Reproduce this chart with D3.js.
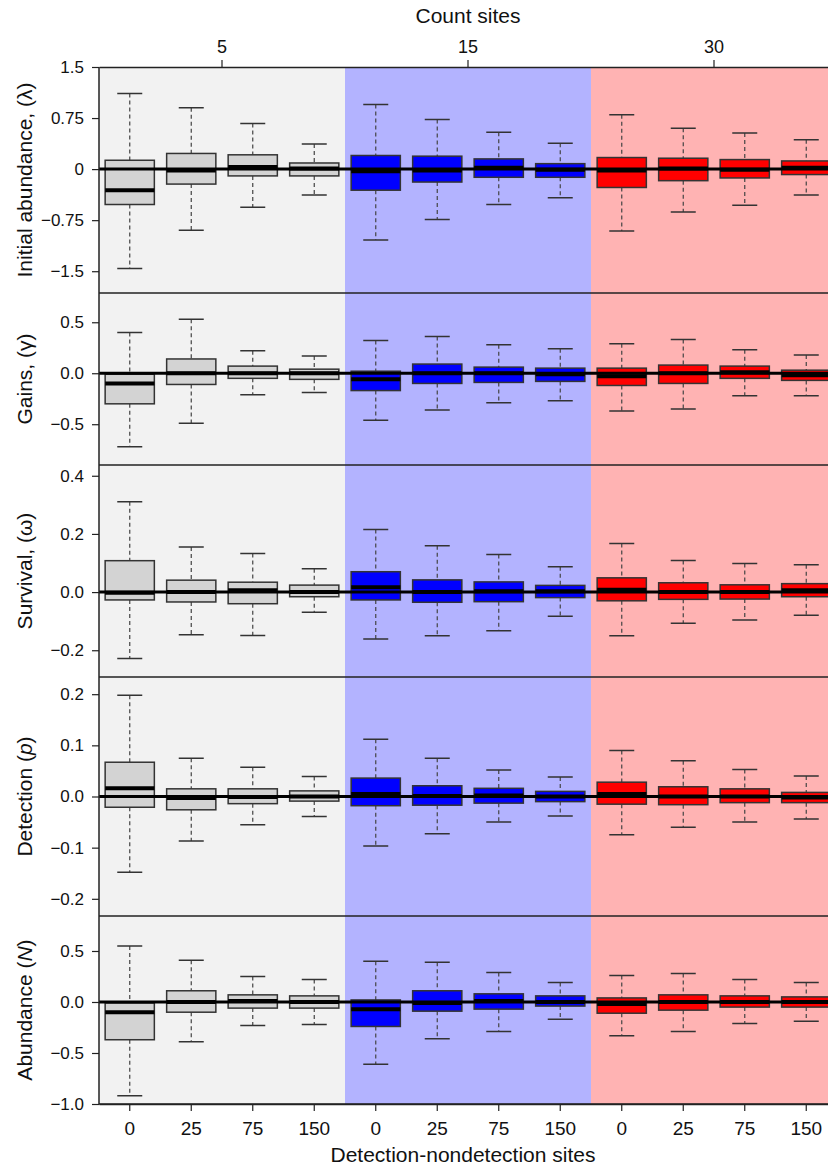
<!DOCTYPE html>
<html>
<head>
<meta charset="utf-8">
<script src="https://cdn.jsdelivr.net/npm/d3@7"></script>
<style>
  body { margin: 0; background: #fff; }
  svg text { font-family: "Liberation Sans", Arial, Helvetica, sans-serif; }
</style>
</head>
<body>
<div id="wrapper"></div>
<script>
// count-site groups (top axis) and detection-nondetection sites (bottom axis)
const countSites = ["5", "15", "30"]
const dnSites = ["0", "25", "75", "150"]
const groupFill = ["#f2f2f2", "#b3b3ff", "#ffb3b3"]
const boxFill = ["#d3d3d3", "#0000ff", "#ff0000"]

// each row: [lower whisker, q1, median, q3, upper whisker], 12 boxes per panel
const lambdaStats = [
    [-1.46, -0.52, -0.31, 0.13, 1.11], [-0.90, -0.22, -0.02, 0.23, 0.90], [-0.56, -0.10, 0.03, 0.21, 0.67], [-0.38, -0.10, 0.01, 0.09, 0.37],
    [-1.04, -0.31, -0.03, 0.20, 0.95], [-0.74, -0.19, -0.02, 0.19, 0.73], [-0.52, -0.12, 0.02, 0.15, 0.54], [-0.42, -0.12, -0.01, 0.08, 0.38],
    [-0.91, -0.27, -0.02, 0.17, 0.80], [-0.63, -0.17, 0.01, 0.16, 0.60], [-0.53, -0.13, -0.01, 0.14, 0.53], [-0.38, -0.08, 0.02, 0.12, 0.43]
]
const gammaStats = [
    [-0.72, -0.30, -0.10, -0.01, 0.40], [-0.49, -0.11, 0.00, 0.14, 0.53], [-0.21, -0.05, 0.00, 0.07, 0.22], [-0.19, -0.06, 0.00, 0.04, 0.17],
    [-0.46, -0.17, -0.06, 0.02, 0.32], [-0.36, -0.10, 0.00, 0.09, 0.36], [-0.29, -0.09, 0.00, 0.06, 0.28], [-0.27, -0.08, -0.01, 0.05, 0.24],
    [-0.37, -0.12, -0.03, 0.05, 0.29], [-0.35, -0.10, 0.00, 0.08, 0.33], [-0.22, -0.05, 0.01, 0.07, 0.23], [-0.22, -0.07, -0.02, 0.03, 0.18]
]
const omegaStats = [
    [-0.228, -0.027, -0.002, 0.108, 0.311], [-0.147, -0.034, 0.000, 0.041, 0.155], [-0.149, -0.040, 0.006, 0.034, 0.133], [-0.069, -0.016, 0.000, 0.024, 0.080],
    [-0.161, -0.027, 0.017, 0.070, 0.215], [-0.150, -0.035, 0.000, 0.042, 0.159], [-0.133, -0.033, 0.003, 0.035, 0.129], [-0.083, -0.019, 0.003, 0.023, 0.087],
    [-0.150, -0.030, 0.008, 0.049, 0.167], [-0.107, -0.025, 0.000, 0.032, 0.109], [-0.096, -0.024, 0.000, 0.025, 0.098], [-0.080, -0.016, 0.006, 0.029, 0.094]
]
const pStats = [
    [-0.148, -0.021, 0.016, 0.067, 0.198], [-0.087, -0.026, -0.003, 0.015, 0.075], [-0.055, -0.014, -0.001, 0.015, 0.057], [-0.039, -0.009, 0.000, 0.011, 0.039],
    [-0.097, -0.018, 0.005, 0.036, 0.112], [-0.073, -0.017, 0.001, 0.021, 0.075], [-0.050, -0.013, 0.002, 0.016, 0.052], [-0.038, -0.010, 0.000, 0.010, 0.038],
    [-0.075, -0.015, 0.005, 0.028, 0.090], [-0.060, -0.016, 0.000, 0.019, 0.070], [-0.050, -0.012, 0.000, 0.015, 0.053], [-0.044, -0.012, -0.002, 0.008, 0.040]
]
const nStats = [
    [-0.92, -0.37, -0.10, -0.01, 0.55], [-0.39, -0.10, 0.00, 0.11, 0.41], [-0.23, -0.06, 0.01, 0.07, 0.25], [-0.22, -0.06, 0.00, 0.06, 0.22],
    [-0.61, -0.24, -0.07, 0.02, 0.40], [-0.36, -0.09, -0.01, 0.11, 0.39], [-0.29, -0.07, 0.01, 0.08, 0.29], [-0.17, -0.04, 0.00, 0.06, 0.19],
    [-0.33, -0.11, -0.02, 0.04, 0.26], [-0.29, -0.08, 0.00, 0.07, 0.28], [-0.21, -0.05, 0.00, 0.06, 0.22], [-0.19, -0.05, 0.00, 0.05, 0.19]
]

// y-axis domains and tick values per panel
const lambdaDomain = [-1.82, 1.5], lambdaTicks = [-1.5, -0.75, 0, 0.75, 1.5]
const gammaDomain = [-0.9, 0.787], gammaTicks = [-0.5, 0, 0.5]
const omegaDomain = [-0.292, 0.437], omegaTicks = [-0.2, 0, 0.2, 0.4]
const pDomain = [-0.2336, 0.2336], pTicks = [-0.2, -0.1, 0, 0.1, 0.2]
const nDomain = [-1.0, 0.843], nTicks = [-1.0, -0.5, 0, 0.5]

const panels = [
    {title: ["Initial abundance, (λ)"], stats: lambdaStats, domain: lambdaDomain, ticks: lambdaTicks, fmt: d3.format(".2~f"), top: 67, bottom: 293},
    {title: ["Gains, (γ)"], stats: gammaStats, domain: gammaDomain, ticks: gammaTicks, fmt: d3.format(".1f"), top: 293, bottom: 465},
    {title: ["Survival, (ω)"], stats: omegaStats, domain: omegaDomain, ticks: omegaTicks, fmt: d3.format(".1f"), top: 465, bottom: 677},
    {title: ["Detection (", "p", ")"], stats: pStats, domain: pDomain, ticks: pTicks, fmt: d3.format(".1f"), top: 677, bottom: 916},
    {title: ["Abundance (", "N", ")"], stats: nStats, domain: nDomain, ticks: nTicks, fmt: d3.format(".1f"), top: 916, bottom: 1104}
]

const width = 828, height = 1167
const left = 99, right = 837   // plot runs slightly past the page edge, like the original
const axisColor = "#222"

const svg = d3.select("#wrapper")
    .append("svg")
    .attr("width", width)
    .attr("height", height)

// keys for the 12 boxes
const boxes = []
countSites.forEach(function(g, gi) {
    dnSites.forEach(function(s, si) {
        boxes.push({key: g + "/" + s, group: gi, site: s})
    })
})

const xGroup = d3.scaleBand()
    .domain(countSites)
    .range([left, right])
    .padding(0)

const x = d3.scaleBand()
    .domain(boxes.map(d => d.key))
    .range([left, right])
    .paddingInner(0.2)
    .paddingOuter(0.1)

const plotTop = panels[0].top, plotBottom = panels[panels.length - 1].bottom

// background group colours
svg.selectAll(".bg")
    .data(countSites)
    .enter()
    .append("rect")
    .attr("x", d => xGroup(d))
    .attr("y", plotTop)
    .attr("width", xGroup.bandwidth())
    .attr("height", plotBottom - plotTop)
    .style("fill", (d, i) => groupFill[i])

const capW = 25

panels.forEach(function(p) {
    const y = d3.scaleLinear()
        .domain(p.domain)
        .range([p.bottom, p.top])

    const g = svg.append("g")
    const data = p.stats.map((s, i) => ({box: boxes[i], lo: s[0], q1: s[1], med: s[2], q3: s[3], hi: s[4]}))

    // whiskers
    g.selectAll(".whisk")
        .data(data)
        .enter()
        .append("path")
        .attr("d", function(d) {
            const cx = x(d.box.key) + x.bandwidth() / 2
            return `M${cx},${y(d.hi)}V${y(d.q3)}M${cx},${y(d.q1)}V${y(d.lo)}`
        })
        .style("stroke", "#444")
        .style("stroke-width", 1.2)
        .style("stroke-dasharray", "4,3")
        .style("fill", "none")

    // caps
    g.selectAll(".cap")
        .data(data)
        .enter()
        .append("path")
        .attr("d", function(d) {
            const cx = x(d.box.key) + x.bandwidth() / 2
            return `M${cx - capW / 2},${y(d.hi)}h${capW}M${cx - capW / 2},${y(d.lo)}h${capW}`
        })
        .style("stroke", "#333")
        .style("stroke-width", 1.5)

    // boxes
    g.selectAll(".box")
        .data(data)
        .enter()
        .append("rect")
        .attr("x", d => x(d.box.key))
        .attr("y", d => y(d.q3))
        .attr("width", x.bandwidth())
        .attr("height", d => y(d.q1) - y(d.q3))
        .style("fill", d => boxFill[d.box.group])
        .style("stroke", "#333")
        .style("stroke-width", 1.5)

    // medians
    g.selectAll(".med")
        .data(data)
        .enter()
        .append("line")
        .attr("x1", d => x(d.box.key))
        .attr("x2", d => x(d.box.key) + x.bandwidth())
        .attr("y1", d => y(d.med))
        .attr("y2", d => y(d.med))
        .style("stroke", "#000")
        .style("stroke-width", 4)

    // zero reference line
    g.append("line")
        .attr("x1", left)
        .attr("x2", right)
        .attr("y1", y(0))
        .attr("y2", y(0))
        .style("stroke", "#000")
        .style("stroke-width", 3)

    // panel frame line at the bottom of each panel
    g.append("line")
        .attr("x1", left)
        .attr("x2", right)
        .attr("y1", p.bottom)
        .attr("y2", p.bottom)
        .style("stroke", axisColor)
        .style("stroke-width", 1.5)

    // y axis
    const ax = g.append("g")
        .attr("transform", `translate(${left},0)`)
        .call(d3.axisLeft(y)
            .tickValues(p.ticks)
            .tickFormat(d => p.fmt(d).replace("-", "\u2212"))
            .tickSize(7)
            .tickPadding(8)
            .tickSizeOuter(0))
    ax.select(".domain").remove()
    ax.selectAll(".tick line").style("stroke", axisColor).style("stroke-width", 1.2)
    ax.selectAll("text").style("font-size", "17px").style("fill", "#111")

    // y title
    const t = g.append("text")
        .attr("transform", `translate(32,${(p.top + p.bottom) / 2}) rotate(-90)`)
        .attr("text-anchor", "middle")
        .style("font-size", "21px")
        .style("fill", "#111")
    p.title.forEach(function(part, i) {
        t.append("tspan")
            .text(part)
            .style("font-style", i == 1 ? "italic" : "normal")
    })
})

// left axis line over the full height
svg.append("line")
    .attr("x1", left).attr("x2", left)
    .attr("y1", plotTop).attr("y2", plotBottom)
    .style("stroke", axisColor)
    .style("stroke-width", 1.5)

// top axis: count sites
const topAxis = svg.append("g")
    .attr("transform", `translate(0,${plotTop})`)
    .call(d3.axisTop(xGroup).tickSize(7).tickPadding(7).tickSizeOuter(0))
topAxis.select(".domain").style("stroke", axisColor).style("stroke-width", 1.5)
topAxis.selectAll(".tick line").style("stroke", axisColor).style("stroke-width", 1.2)
topAxis.selectAll("text").style("font-size", "18px").style("fill", "#111")

svg.append("text")
    .attr("x", (left + right) / 2)
    .attr("y", 23)
    .attr("text-anchor", "middle")
    .style("font-size", "21px")
    .style("fill", "#111")
    .text("Count sites")

// bottom axis: detection-nondetection sites
const bottomAxis = svg.append("g")
    .attr("transform", `translate(0,${plotBottom})`)
    .call(d3.axisBottom(x)
        .tickFormat(k => k.split("/")[1])
        .tickSize(7)
        .tickPadding(11)
        .tickSizeOuter(0))
bottomAxis.select(".domain").style("stroke", axisColor).style("stroke-width", 1.5)
bottomAxis.selectAll(".tick line").style("stroke", axisColor).style("stroke-width", 1.2)
bottomAxis.selectAll("text").style("font-size", "19px").style("fill", "#111")

svg.append("text")
    .attr("x", (left + right) / 2 - 5)
    .attr("y", 1162)
    .attr("text-anchor", "middle")
    .style("font-size", "21px")
    .style("fill", "#111")
    .text("Detection-nondetection sites")
</script>
</body>
</html>
